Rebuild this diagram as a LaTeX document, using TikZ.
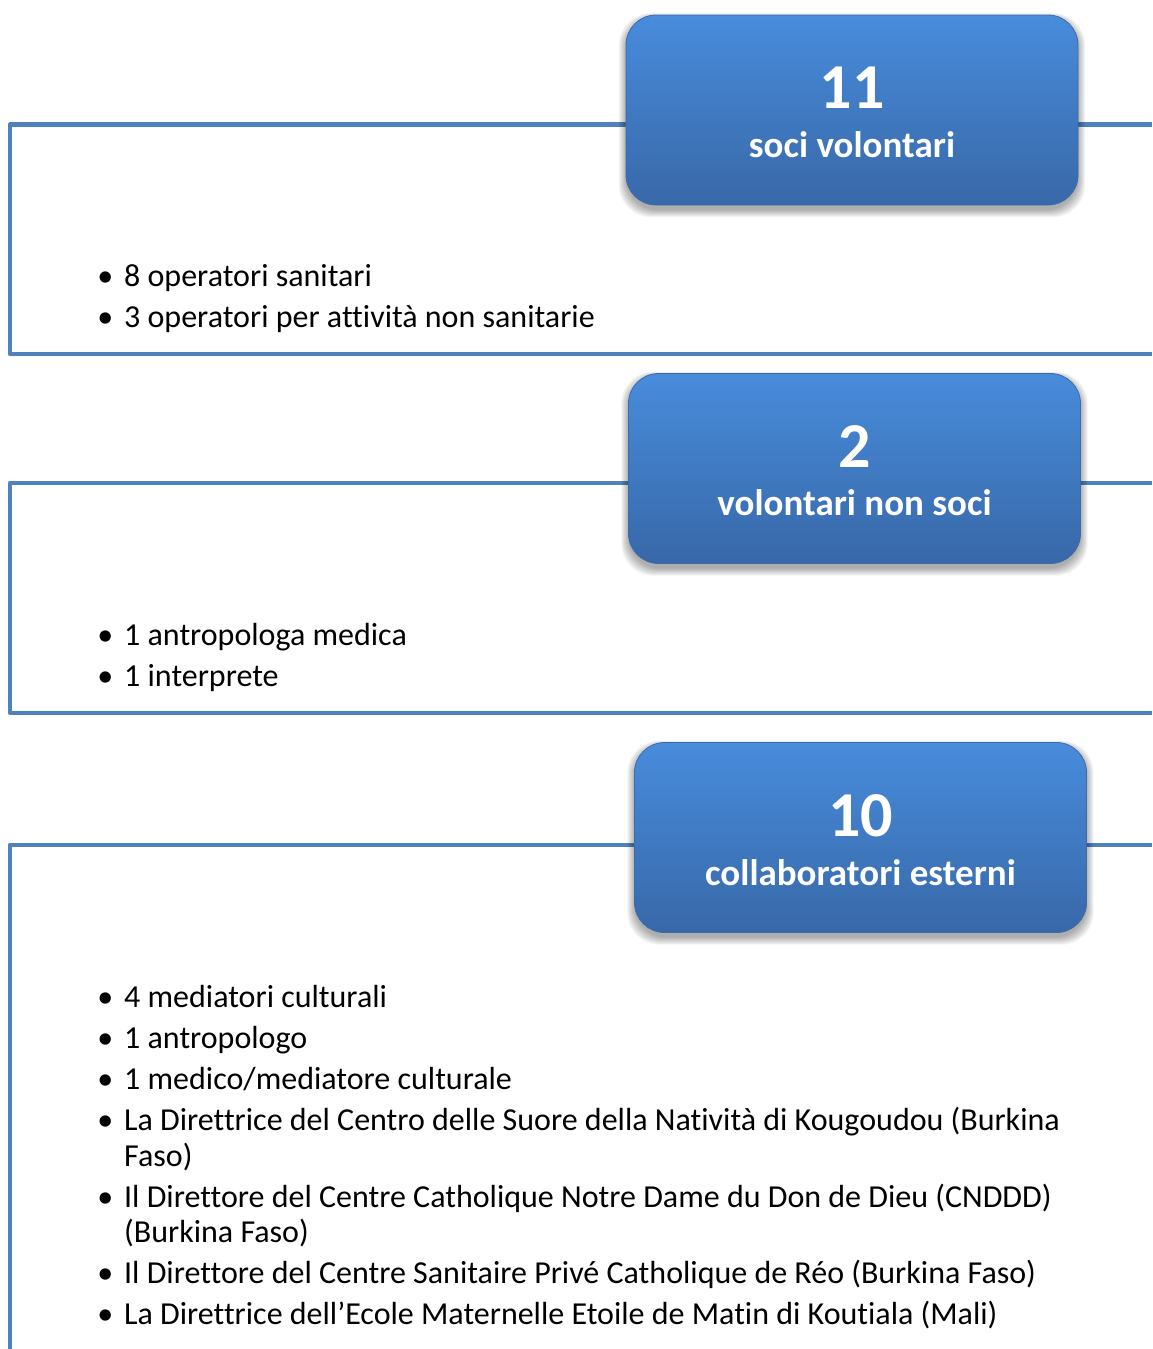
\documentclass[tikz,border=0pt]{standalone}
\usepackage{fontspec}
\setmainfont{Carlito}[Ligatures=NoCommon]
\definecolor{frameblue}{RGB}{79,129,189}
\definecolor{boxtop}{RGB}{72,140,220}
\definecolor{boxbot}{RGB}{56,104,168}
\definecolor{boxedge}{RGB}{58,108,172}
\tikzset{
  framepath/.style={draw=frameblue, line width=4.5pt, line join=round},
  bigbox/.style={rectangle, rounded corners=30pt, minimum width=452pt, minimum height=190pt,
    top color=boxtop, bottom color=boxbot, draw=boxedge, line width=0.8pt},
  shadowlayer/.style={fill=black, opacity=0.04, rounded corners=32pt},
  numtext/.style={anchor=base, inner sep=0pt, text=white, font=\fontsize{64}{70}\selectfont\bfseries},
  titletext/.style={anchor=base, inner sep=0pt, text=white, font=\fontsize{37}{40}\selectfont\bfseries},
  itemtext/.style={anchor=base west, inner sep=0pt, font=\fontsize{32}{36}\selectfont},
}
\newcommand{\blt}{\llap{•\hspace{11pt}}}
\newcommand{\softshadow}[2]{%
  \foreach \k in {0,...,8} {%
    \fill[shadowlayer] (#1-226-\k*0.9, #2-95+3-\k*0.6) rectangle (#1+226+\k*0.9, #2+95+5+\k*0.9);
  }%
}
\begin{document}
\begin{tikzpicture}[x=1pt, y=-1pt]
\useasboundingbox (0,0) rectangle (1152,1349);
\fill[white] (0,0) rectangle (1152,1349);
% frames
\coordinate (f1a) at (1152,124.5);
\coordinate (f1b) at (10,124.5);
\coordinate (f1c) at (10,354);
\coordinate (f1d) at (1152,354);
\coordinate (f2a) at (1152,483);
\coordinate (f2b) at (10,483);
\coordinate (f2c) at (10,713);
\coordinate (f2d) at (1152,713);
\coordinate (f3a) at (1152,845);
\coordinate (f3b) at (10,845);
\coordinate (f3c) at (10,1352);
\draw[framepath] (f1a) -- (f1b) -- (f1c) -- (f1d);
\draw[framepath] (f2a) -- (f2b) -- (f2c) -- (f2d);
\draw[framepath] (f3a) -- (f3b) -- (f3c);
% shadows
\softshadow{852}{110}
\softshadow{854.5}{468.5}
\softshadow{860.5}{837.5}
% boxes
\node[bigbox] (b1) at (852,110) {};
\node[bigbox] (b2) at (854.5,468.5) {};
\node[bigbox] (b3) at (860.5,837.5) {};
% box texts
\node[numtext] (n1) at (852,108) {11};
\node[titletext] (t1) at (852,157) {soci volontari};
\node[numtext] (n2) at (854.5,467) {2};
\node[titletext] (t2) at (854.5,515) {volontari non soci};
\node[numtext] (n3) at (860.5,836) {10};
\node[titletext] (t3) at (860.5,885) {collaboratori esterni};
% items frame 1
\node[itemtext] (i11) at (124,286) {\blt 8 operatori sanitari};
\node[itemtext] (i12) at (124,327) {\blt 3 operatori per attività non sanitarie};
% items frame 2
\node[itemtext] (i21) at (124,645) {\blt 1 antropologa medica};
\node[itemtext] (i22) at (124,686) {\blt 1 interprete};
% items frame 3
\node[itemtext] (i31) at (124,1007) {\blt 4 mediatori culturali};
\node[itemtext] (i32) at (124,1048) {\blt 1 antropologo};
\node[itemtext] (i33) at (124,1089) {\blt 1 medico/mediatore culturale};
\node[itemtext] (i34) at (124,1130) {\blt La Direttrice del Centro delle Suore della Natività di Kougoudou (Burkina};
\node[itemtext] (i34b) at (124,1166) {Faso)};
\node[itemtext] (i35) at (124,1207) {\blt Il Direttore del Centre Catholique Notre Dame du Don de Dieu (CNDDD)};
\node[itemtext] (i35b) at (124,1242) {(Burkina Faso)};
\node[itemtext] (i36) at (124,1283) {\blt Il Direttore del Centre Sanitaire Privé Catholique de Réo (Burkina Faso)};
\node[itemtext] (i37) at (124,1324) {\blt La Direttrice dell’Ecole Maternelle Etoile de Matin di Koutiala (Mali)};
\end{tikzpicture}
\end{document}
